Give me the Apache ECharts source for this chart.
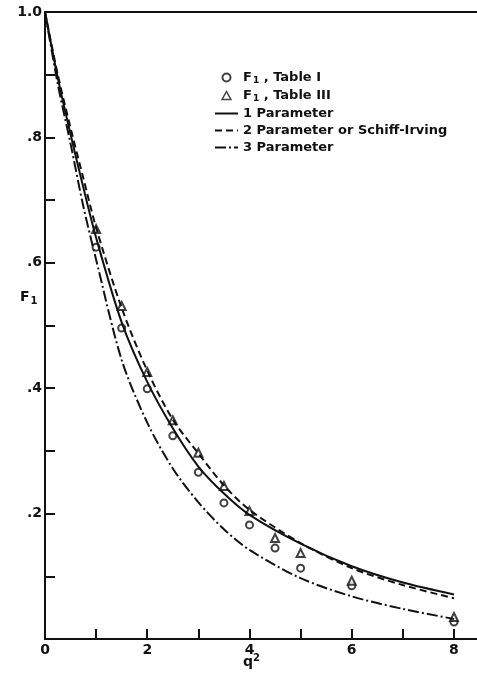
<!DOCTYPE html>
<html>
<head>
<meta charset="utf-8">
<script src="https://cdn.jsdelivr.net/npm/echarts@6/dist/echarts.min.js"></script>
<style>html,body{margin:0;padding:0;background:#fff;}#c{width:477px;height:677px;}</style>
</head>
<body>
<div id="c"></div>
<script>
// ---- data ----
var curveX   = [0, 0.25, 0.5, 0.75, 1, 1.5, 2, 2.5, 3, 3.5, 4, 5, 6, 7, 8];
var onePar   = [1, 0.895, 0.805, 0.72, 0.64, 0.505, 0.41, 0.336, 0.275, 0.232, 0.198, 0.152, 0.116, 0.090, 0.071];
var twoPar   = [1, 0.90, 0.815, 0.735, 0.656, 0.528, 0.428, 0.35, 0.296, 0.245, 0.206, 0.153, 0.113, 0.086, 0.065];
var threePar = [1, 0.885, 0.79, 0.69, 0.605, 0.445, 0.345, 0.272, 0.218, 0.175, 0.142, 0.097, 0.068, 0.048, 0.032];

var pointX   = [1, 1.5, 2, 2.5, 3, 3.5, 4, 4.5, 5, 6, 8];
var tableI   = [0.625, 0.496, 0.399, 0.324, 0.266, 0.217, 0.182, 0.145, 0.113, 0.085, 0.027];
var tableIII = [0.654, 0.531, 0.426, 0.349, 0.297, 0.244, 0.204, 0.161, 0.137, 0.093, 0.035];

var xLabels = [0, 2, 4, 6, 8];
var yLabels = {'0.2': '.2', '0.4': '.4', '0.6': '.6', '0.8': '.8', '1': '1.0'};

var names = ['F1 , Table I', 'F1 , Table III', '1 Parameter', '2 Parameter or Schiff-Irving', '3 Parameter'];

function pairs(xs, ys) { return xs.map(function (x, i) { return [x, ys[i]]; }); }

var INK = '#111';
var FONT = 'DejaVu Sans';
var HIDE = {color: 'rgba(0,0,0,0)', borderColor: 'rgba(0,0,0,0)', borderWidth: 0};
var HOLLOW = {color: '#fff', borderColor: INK, borderWidth: 1.5};

var chart = echarts.init(document.getElementById('c'), null, {renderer: 'canvas'});
chart.setOption({
  backgroundColor: '#fff',
  animation: false,
  grid: {left: 45, right: 0, top: 12, bottom: 38, containLabel: false},
  xAxis: [{
    type: 'value', min: 0, max: 8.45, interval: 1,
    axisLine: {lineStyle: {color: INK, width: 2}},
    axisTick: {inside: true, length: 10, lineStyle: {color: INK, width: 2}},
    splitLine: {show: false},
    axisLabel: {
      color: INK, fontFamily: FONT, fontWeight: 'bold', fontSize: 14, margin: 4,
      showMaxLabel: false,
      formatter: function (v) { return xLabels.indexOf(v) >= 0 ? String(v) : ''; }
    }
  }, {
    type: 'value', position: 'top', min: 0, max: 8.45,
    axisLine: {show: true, onZero: false, lineStyle: {color: INK, width: 2}},
    axisTick: {show: false}, axisLabel: {show: false}, splitLine: {show: false}
  }],
  yAxis: {
    type: 'value', min: 0, max: 1, interval: 0.1,
    axisLine: {show: true, lineStyle: {color: INK, width: 2}},
    axisTick: {inside: true, length: 10, lineStyle: {color: INK, width: 2}},
    splitLine: {show: false},
    axisLabel: {
      color: INK, fontFamily: FONT, fontWeight: 'bold', fontSize: 14, margin: 3,
      formatter: function (v) { var k = String(Math.round(v * 10) / 10); return yLabels[k] || ''; }
    }
  },
  legend: {
    orient: 'vertical', left: 214, top: 71, padding: 0,
    itemWidth: 23, itemHeight: 8, itemGap: 4, symbolKeepAspect: true,
    data: [
      {name: names[0], icon: 'emptyCircle'},
      {name: names[1], icon: 'path://M5,0 L10,9 L0,9 Z', itemStyle: HOLLOW},
      {name: names[2], itemStyle: HIDE},
      {name: names[3], itemStyle: HIDE},
      {name: names[4], itemStyle: HIDE}
    ],
    formatter: function (n) {
      if (n.indexOf('F1') === 0) return '{a|F}{s|1}{a|' + n.slice(2) + '}';
      return '{a|' + n + '}';
    },
    textStyle: {
      color: INK, fontFamily: FONT, fontSize: 13, fontWeight: 'bold',
      rich: {
        a: {fontFamily: FONT, fontSize: 13, fontWeight: 'bold', color: INK},
        s: {fontFamily: FONT, fontSize: 9, fontWeight: 'bold', color: INK, padding: [6, 0, 0, 1]}
      }
    }
  },
  graphic: [
    {type: 'text', left: 243, top: 653, style: {rich: {
        a: {fontFamily: FONT, fontSize: 14, fontWeight: 'bold', fill: INK},
        p: {fontFamily: FONT, fontSize: 10, fontWeight: 'bold', fill: INK, padding: [0, 0, 8, 0]}
      }, text: '{a|q}{p|2}'}},
    {type: 'text', left: 20, top: 290, style: {rich: {
        a: {fontFamily: FONT, fontSize: 14, fontWeight: 'bold', fill: INK},
        s: {fontFamily: FONT, fontSize: 10, fontWeight: 'bold', fill: INK, padding: [8, 0, 0, 1]}
      }, text: '{a|F}{s|1}'}}
  ],
  series: [
    {name: names[0], type: 'scatter', data: pairs(pointX, tableI), symbol: 'emptyCircle', symbolSize: 7,
     itemStyle: {color: INK, borderColor: INK, borderWidth: 1.5}},
    {name: names[1], type: 'scatter', data: pairs(pointX, tableIII), symbol: 'emptyTriangle', symbolSize: 8,
     itemStyle: {color: INK, borderColor: INK, borderWidth: 1.5}},
    {name: names[2], type: 'line', data: pairs(curveX, onePar), smooth: 0.3, symbol: 'none',
     itemStyle: {color: INK}, lineStyle: {color: INK, width: 2}},
    {name: names[3], type: 'line', data: pairs(curveX, twoPar), smooth: 0.3, symbol: 'none',
     itemStyle: {color: INK}, lineStyle: {color: INK, width: 2, type: [7, 4]}},
    {name: names[4], type: 'line', data: pairs(curveX, threePar), smooth: 0.3, symbol: 'none',
     itemStyle: {color: INK}, lineStyle: {color: INK, width: 2, type: [11, 3, 2, 3]}}
  ]
});
</script>
</body>
</html>
